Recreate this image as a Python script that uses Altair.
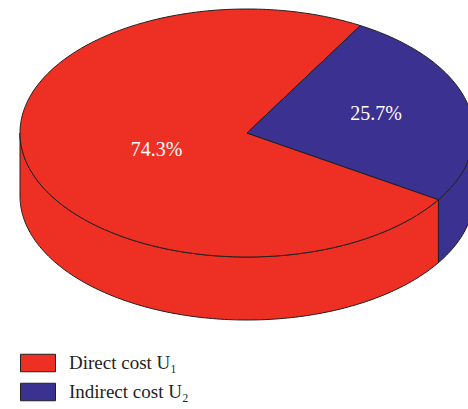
import math
import altair as alt

# ---- data ----
categories = ["Direct cost U₁", "Indirect cost U₂"]
shares = [74.3, 25.7]
labels = ["74.3%", "25.7%"]
colors = ["#EE3024", "#3A3190"]

# ---- layout constants (pixels / degrees) ----
CX, CY, RX, RY, DEPTH = 247, 133, 227, 124, 63
START_DEG = -32.5          # first slice starts here, slices run clockwise
LABEL_R = [0.41, 0.585]    # label radius as fraction of the ellipse
LABEL_DY = [5, -2]         # small vertical nudges of the labels


def ell(theta_deg, dy=0.0, r=1.0):
    t = math.radians(theta_deg)
    return [CX + RX * r * math.cos(t), CY - RY * r * math.sin(t) + dy]


def arc_points(a_from, a_to, dy=0.0, step=1.0):
    n = max(2, int(abs(a_to - a_from) / step) + 1)
    return [ell(a_from + (a_to - a_from) * i / (n - 1), dy) for i in range(n)]


def feature(name, ring):
    return {"type": "Feature", "properties": {"name": name},
            "geometry": {"type": "Polygon", "coordinates": [ring]}}


tops, sides, label_rows = [], [], []
total = sum(shares)
a = START_DEG
for name, share, lab, lr, ldy in zip(categories, shares, labels, LABEL_R, LABEL_DY):
    sweep = share / total * 360.0
    a1, a2 = a, a - sweep
    ring = [[CX, CY]] + arc_points(a1, a2) + [[CX, CY]]
    tops.append(feature(name, ring))
    for k in range(-2, 3):
        vlo, vhi = max(a2, -180 + 360 * k), min(a1, 360 * k)
        if vhi > vlo:
            top = arc_points(vlo, vhi)
            bot = arc_points(vhi, vlo, DEPTH)
            sides.append(feature(name, top + bot + [top[0]]))
    mid = (a1 + a2) / 2
    px, py = ell(mid, dy=ldy, r=lr)
    label_rows.append({"lon": px, "lat": py, "label": lab})
    a = a2

PROJ = dict(type="identity", scale=1, translate=[0, 0])

color = alt.Color(
    "properties.name:N",
    scale=alt.Scale(domain=categories, range=colors),
    legend=alt.Legend(
        title=None,
        orient="none",
        legendX=20,
        legendY=345,
        padding=0,
        symbolType="M-1,-0.5H1V0.5H-1Z",
        symbolSize=1225,
        symbolStrokeColor="#231F20",
        symbolStrokeWidth=1,
        symbolOpacity=1,
        labelFont="Liberation Serif",
        labelFontSize=19,
        labelColor="#231F20",
        labelOffset=13,
        rowPadding=0,
    ),
)

side_layer = alt.Chart(alt.Data(values=sides)).mark_geoshape(
    stroke="#231F20", strokeWidth=1, fillOpacity=1
).encode(fill=color).project(**PROJ)

top_layer = alt.Chart(alt.Data(values=tops)).mark_geoshape(
    stroke="#231F20", strokeWidth=1, fillOpacity=1
).encode(fill=color).project(**PROJ)

text_layer = alt.Chart(alt.Data(values=label_rows)).mark_text(
    font="Liberation Serif", fontSize=20, color="white", align="center", baseline="middle"
).encode(longitude="lon:Q", latitude="lat:Q", text="label:N").project(**PROJ)

chart = alt.layer(side_layer, top_layer, text_layer).properties(
    width=468, height=409, padding=0, autosize=alt.AutoSizeParams(type="none")
).configure_view(stroke=None)

chart.save("out.html", embed_options={"renderer": "svg", "actions": False})
